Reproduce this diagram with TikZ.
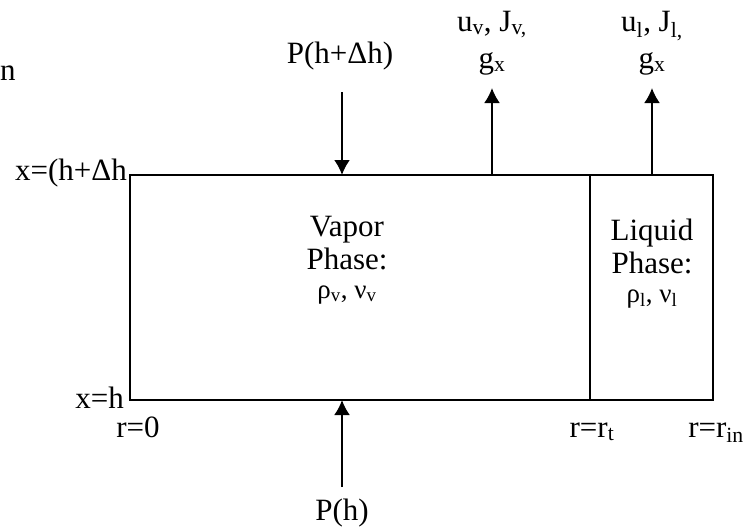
\documentclass[tikz,border=0pt]{standalone}
\usepackage{fontspec}
\setmainfont{Liberation Serif}
\usetikzlibrary{arrows.meta}

\begin{document}
\begin{tikzpicture}[x=1pt, y=-1pt, >={Latex[length=15pt,width=16pt]}]

% Stili
\tikzset{
  lbl/.style={inner sep=0pt, font=\fontsize{31}{37}\selectfont},
  phase/.style={lbl, align=center, font=\fontsize{31}{33}\selectfont},
  outlbl/.style={lbl, align=center},
  cell/.style={draw, line width=2pt, inner sep=0pt, outer sep=0pt, minimum height=225pt},
  flow/.style={line width=2pt, ->}
}
\newcommand{\greekline}[1]{{\fontsize{27}{30}\selectfont ρ\textsubscript{#1}, ν\textsubscript{#1}}}

\useasboundingbox (0,0) rectangle (750,531);

% Celle
\node (vapor) [cell, minimum width=460pt] at (360,287.5) {};
\node (liquid) [cell, minimum width=123pt, anchor=west] at (vapor.east) {};

% Testi interni (base = ultima riga)
\node (vaptxt) [phase, anchor=base] at (347,298) {Vapor\\Phase:\\[-4pt]\greekline{v}};
\node (liqtxt) [phase, anchor=base] at (652,302) {Liquid\\Phase:\\[-4pt]\greekline{l}};

% Etichette
\node (ntxt) [lbl, anchor=base west] at (0,80) {n};
\node (xtop) [lbl, anchor=base east] at (127,180) {x=(h+Δh};
\node (xbot) [lbl, anchor=base east] at (124,408) {x=h};
\node (rzero) [lbl, anchor=base] at (138,437) {r=0};
\node (rt) [lbl, anchor=base] at (592,437) {r=r\textsubscript{t}};
\node (rin) [lbl, anchor=base] at (716,437) {r=r\textsubscript{in}};
\node (ptop) [lbl, anchor=base] at (340,63) {P(h+Δh)};
\node (pbot) [lbl, anchor=base] at (342,520) {P(h)};
\node (vout) [outlbl, anchor=base] at (492,68) {u\textsubscript{v}, J\textsubscript{v,}\\g\textsubscript{x}};
\node (lout) [outlbl, anchor=base] at (652,68) {u\textsubscript{l}, J\textsubscript{l,}\\g\textsubscript{x}};

% Estremi liberi
\coordinate (ptopend) at (342,92);
\coordinate (pbotend) at (342,487);
\coordinate (voutend) at (492,88);
\coordinate (loutend) at (652,88);

% Frecce
\draw [flow] (ptopend) -- (ptopend |- vapor.north);
\draw [flow] (pbotend) -- (pbotend |- vapor.south);
\draw [flow] (voutend |- vapor.north) -- (voutend);
\draw [flow] (loutend |- liquid.north) -- (loutend);

\end{tikzpicture}
\end{document}
